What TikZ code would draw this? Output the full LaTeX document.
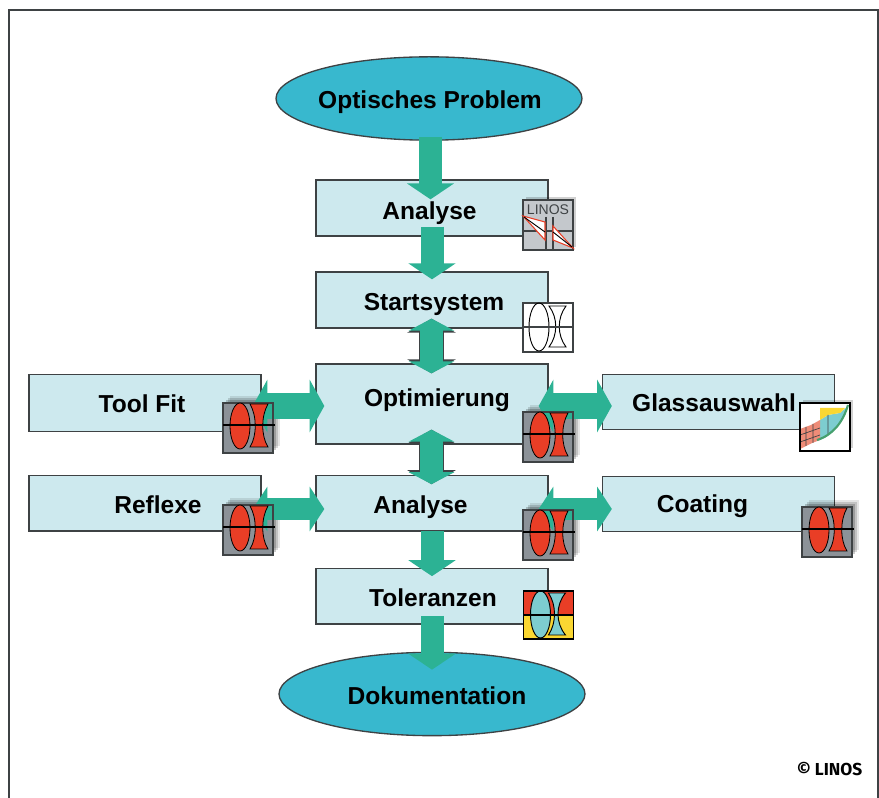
\documentclass[tikz,border=0pt]{standalone}
\usepackage{fontspec}
\setmainfont{Liberation Sans}
\newfontfamily\creditfont{Fira Sans}
\usepackage{xcolor}
\usetikzlibrary{shapes.geometric,arrows.meta,shadows}

\definecolor{boxfill}{RGB}{205,233,238}
\definecolor{ovalfill}{RGB}{56,184,206}
\definecolor{arrowfill}{RGB}{44,178,148}
\definecolor{lensred}{RGB}{233,62,38}
\definecolor{icongrey}{RGB}{140,146,152}
\definecolor{iconlight}{RGB}{196,200,204}
\definecolor{iconcyan}{RGB}{125,205,208}
\definecolor{iconyellow}{RGB}{250,215,50}
\definecolor{iconpink}{RGB}{238,140,120}
\definecolor{icongreen}{RGB}{70,160,110}
\definecolor{linegrey}{RGB}{62,66,68}

\tikzset{
  stepbox/.style={draw=linegrey,line width=1pt,fill=boxfill,minimum width=174pt,inner sep=0pt},
  ovalbox/.style={ellipse,draw=linegrey,line width=1pt,fill=ovalfill,minimum width=229.5pt,minimum height=62.5pt,inner sep=0pt},
  boxtext/.style={inner sep=0pt,anchor=base,font=\fontsize{18.4}{22}\selectfont\bfseries},
  softshadow/.style={drop shadow={shadow xshift=5pt,shadow yshift=5pt,fill=black,opacity=0.1},drop shadow={shadow xshift=4pt,shadow yshift=4pt,fill=black,opacity=0.15},drop shadow={shadow xshift=2.5pt,shadow yshift=2.5pt,fill=black,opacity=0.2}},
  fatdown/.style={arrowfill,line width=17.25pt,-{Triangle[width=35pt,length=12pt]}},
  fatboth/.style={arrowfill,line width=17.25pt,{Triangle[width=34pt,length=9pt]}-{Triangle[width=34pt,length=9pt]},
    preaction={draw=linegrey,line width=18.5pt,{Triangle[width=36pt,length=10.5pt]}-{Triangle[width=36pt,length=10.5pt]}}},
  fatside/.style={arrowfill,line width=19.5pt,{Triangle[width=39pt,length=11pt]}-{Triangle[width=39pt,length=11pt]}},
  fatsidelow/.style={arrowfill,line width=16.5pt,{Triangle[width=33pt,length=11pt]}-{Triangle[width=33pt,length=11pt]}},
  iconframe/.style={draw=linegrey,line width=0.8pt},
  pics/lensback/.style={code={
    \fill[fill=icongrey,softshadow] (-25,-25) rectangle (25,25);
  }},
  pics/lensfront/.style={code={
    \draw[iconframe] (-25,-25) rectangle (25,25);
    \draw[fill=lensred,line width=0.6pt] (-8,2) ellipse [x radius=10,y radius=23];
    \draw[fill=lensred,line width=0.6pt] (2,-19) -- (20,-19) .. controls (13,-8) and (13,12) .. (20,24) -- (2,24) .. controls (9,12) and (9,-8) .. (2,-19) -- cycle;
    \draw[line width=0.8pt] (-25,3) -- (27,3);
  }}
}

\begin{document}
\begin{tikzpicture}[x=0.75pt,y=0.75pt,yscale=-1,xscale=1]
    \useasboundingbox (0,0) rectangle (879,798);

    %Frame, open at the bottom
    \draw [line width=1.1pt,color=linegrey] (9,798) -- (9,10) -- (878,10) -- (878,798);

    %Shape: Ellipses
    \node [ovalbox] (problem) at (429,98.5) {};
    \node [ovalbox] (doku) at (432,694) {};

    %Shape: Boxes
    \node [stepbox,minimum height=42pt] (analyseA) at (432,208) {};
    \node [stepbox,minimum height=42pt] (start) at (432,300) {};
    \node [stepbox,minimum height=60pt] (optim) at (432,404) {};
    \node [stepbox,minimum height=41.5pt] (analyseB) at (432,503.5) {};
    \node [stepbox,minimum height=41.5pt] (toleranz) at (432,596.5) {};
    \node [stepbox,minimum height=43pt] (toolfit) at (145,403) {};
    \node [stepbox,minimum height=41.5pt] (reflexe) at (145,503.5) {};
    \node [stepbox,minimum height=41.5pt] (glas) at (718.5,402) {};
    \node [stepbox,minimum height=41.5pt] (coating) at (718.5,504) {};

    %Icons behind the arrows
    \pic at (248,428) {lensback};
    \pic at (548,437) {lensback};
    \pic at (248,530) {lensback};
    \pic at (548,535) {lensback};
    \pic at (827,532) {lensback};

    %Arrows down
    \draw [fatdown] ([shift={(1.5,-4)}]problem.south) -- ([shift={(-1.5,20)}]analyseA.north);
    \draw [fatdown] ([shift={(0,-10)}]analyseA.south) -- ([shift={(0,8)}]start.north);
    \draw [fatdown] ([shift={(0,-1)}]analyseB.south) -- ([shift={(0,8)}]toleranz.north);
    \draw [fatdown] ([shift={(0,-9)}]toleranz.south) -- ([shift={(0,18)}]doku.north);

    %Arrows both ways
    \draw [fatboth] ([shift={(-0.5,-10)}]start.south) -- ([shift={(-0.5,10)}]optim.north);
    \draw [fatboth] ([shift={(-0.5,-15)}]optim.south) -- ([shift={(-0.5,9)}]analyseB.north);
    \draw [fatside] ([shift={(-9,3)}]toolfit.east) -- ([shift={(9,2)}]optim.west);
    \draw [fatside] ([shift={(-10,2)}]optim.east) -- ([shift={(10,4)}]glas.west);
    \draw [fatsidelow] ([shift={(-9,5.5)}]reflexe.east) -- ([shift={(9,5.5)}]analyseB.west);
    \draw [fatsidelow] ([shift={(-10,5.5)}]analyseB.east) -- ([shift={(10,5)}]coating.west);

    %Icons in front of the arrows
    \pic at (248,428) {lensfront};
    \pic at (548,437) {lensfront};
    \pic at (248,530) {lensfront};
    \pic at (548,535) {lensfront};
    \pic at (827,532) {lensfront};

    %Icon: LINOS
    \begin{scope}[shift={(548,225)}]
      \draw [draw=linegrey,fill=iconlight,line width=1pt,drop shadow={shadow xshift=2pt,shadow yshift=2pt,fill=black,opacity=0.18}] (-25,-25) rectangle (25,25);
      \node [inner sep=0pt,color=linegrey,font=\fontsize{10.5}{12}\selectfont] (logo) at (0,-15) {LINOS};
      \draw [line width=0.8pt,draw=linegrey] (-25,6) -- (25,6) (-2,-8) -- (-2,25) (5,-8) -- (5,25);
      \draw [fill=white,draw=lensred,line width=0.8pt] (-25,-9) -- (-3,-3) -- (-3,15) -- cycle (5,1) -- (25,23) -- (5,15) -- cycle;
      \draw [line width=0.7pt] (-24,-8) -- (-3,7) (5,7) -- (24,22);
    \end{scope}

    %Icon: outline lens
    \begin{scope}[shift={(548,328)}]
      \draw [draw=linegrey,fill=white,line width=1pt] (-25,-25) rectangle (25,24);
      \draw [line width=0.7pt] (-9,-1) ellipse [x radius=10,y radius=24];
      \draw [line width=0.7pt] (1,-22) -- (18,-22) .. controls (9,-10) and (9,7) .. (18,19) -- (1,19) .. controls (10,7) and (10,-10) .. (1,-22) -- cycle;
      \draw [line width=1pt,draw=linegrey] (-25,-1) -- (25,-1);
    \end{scope}

    %Icon: tolerances
    \begin{scope}[shift={(548.5,615)}]
      \fill [lensred] (-25,-24) rectangle (25,0);
      \fill [iconyellow] (-25,0) rectangle (25,24);
      \draw [fill=iconcyan,line width=0.7pt] (-8,-0.5) ellipse [x radius=10,y radius=23.5];
      \draw [fill=iconcyan,line width=0.7pt] (0,-22) -- (17,-22) .. controls (7,-10) and (7,8) .. (17,20) -- (0,20) .. controls (8,8) and (8,-10) .. (0,-22) -- cycle;
      \draw [line width=1.1pt] (-25,-24) rectangle (25,24) (-25,0) -- (25,0);
    \end{scope}

    %Icon: glass chart
    \begin{scope}[shift={(825,427)}]
      \fill [white,drop shadow={shadow xshift=2pt,shadow yshift=2pt,fill=black,opacity=0.18}] (-25,-24) rectangle (25,24);
      \fill [iconcyan] (-5,-7) -- (3,-12) -- (15,-14) -- (22,-20) .. controls (18,-5) and (8,8) .. (-5,13) -- cycle;
      \fill [iconyellow] (-5,-19) -- (20,-19) -- (15,-14) -- (3,-12) -- (-5,-7) -- cycle;
      \fill [iconpink] (-25,2) -- (-14,-2) -- (-5,-7) -- (-5,13) -- (-13,16) -- (-25,22) -- cycle;
      \draw [line width=0.5pt,draw=linegrey] (-19,0) -- (-19,19) (-12,-3) -- (-12,16) (-25,8) -- (-5,1) (-25,15) -- (-5,8) (3,-12) -- (3,8);
      \draw [line width=1.6pt,draw=icongreen] (23,-22) .. controls (18,-5) and (8,8) .. (-8,13);
      \draw [line width=1.1pt] (-25,-24) rectangle (25,24);
    \end{scope}

    % Text Node
    \node [boxtext] (problemtext) at (430,109) {Optisches Problem};
    % Text Node
    \node [boxtext] (analyseAtext) at (429.5,220) {Analyse};
    % Text Node
    \node [boxtext] (starttext) at (434,311) {Startsystem};
    % Text Node
    \node [boxtext] (optimtext) at (437,407) {Optimierung};
    % Text Node
    \node [boxtext] (analyseBtext) at (420.5,514) {Analyse};
    % Text Node
    \node [boxtext] (toleranztext) at (433,607) {Toleranzen};
    % Text Node
    \node [boxtext] (dokutext) at (437,704) {Dokumentation};
    % Text Node
    \node [boxtext] (toolfittext) at (142,413) {Tool Fit};
    % Text Node
    \node [boxtext] (reflexetext) at (158,514) {Reflexe};
    % Text Node
    \node [boxtext] (glastext) at (714,412) {Glassauswahl};
    % Text Node
    \node [boxtext] (coatingtext) at (702.5,513) {Coating};
    % Text Node
    \node [inner sep=0pt,font=\creditfont\fontsize{13}{15}\selectfont\bfseries] (credit) at (829.5,769) {© LINOS};
\end{tikzpicture}
\end{document}
